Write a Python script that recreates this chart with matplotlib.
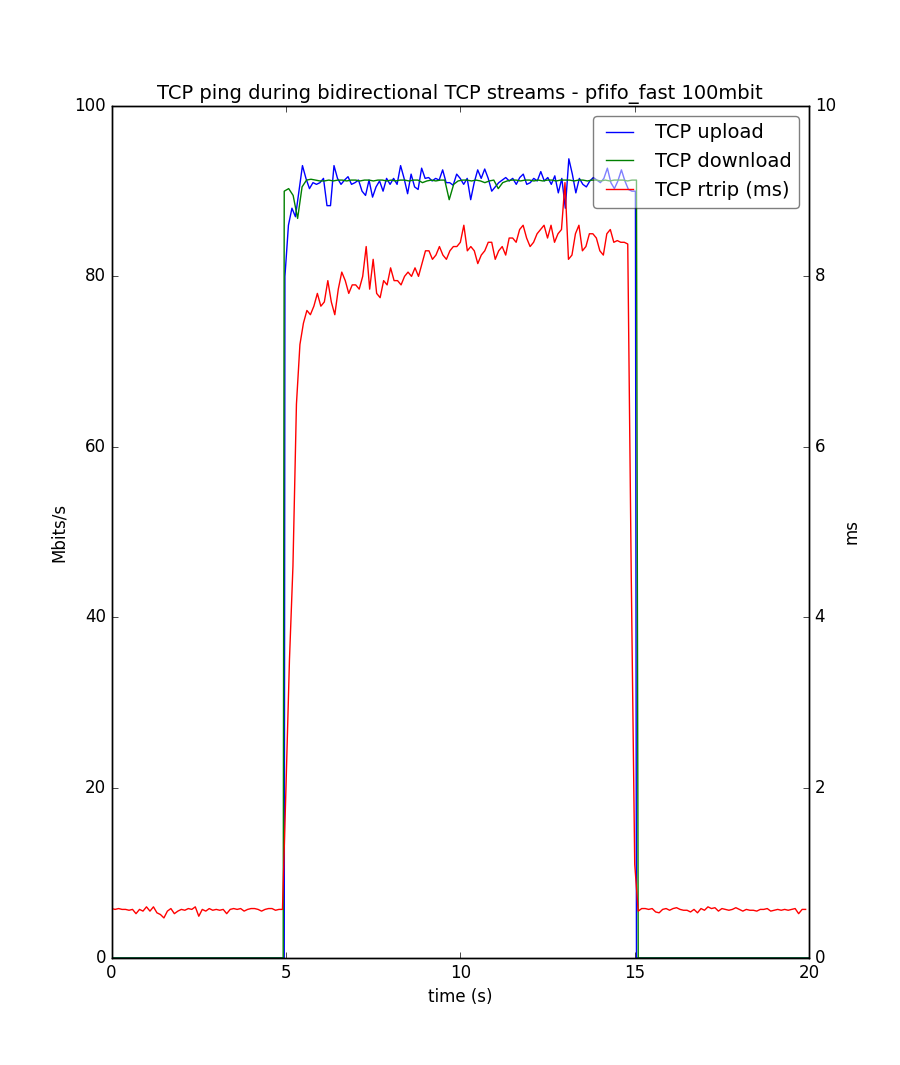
import numpy as np
import matplotlib
matplotlib.use("Agg")
import matplotlib.pyplot as plt

plt.style.use("classic")

# ── Data ──────────────────────────────────────────────────────────────────
# throughput (Mbit/s) during the stream window ~5.0 .. 15.0 s
upload_mid = [80, 86, 88, 87, 90, 93, 91.5, 90.3, 91, 90.8, 91, 91.5, 88.3, 88.3, 93, 91.5,
              90.8, 91.3, 91.7, 90.8, 91, 91.3, 90, 89.5, 91.3, 89.3, 90.5, 91.2, 90, 91.5,
              90.8, 91.5, 90.8, 93, 91.5, 89.7, 92, 90.5, 90.2, 92.7, 91.5, 91.6, 91.2, 91.5,
              91.3, 92.5, 91, 91, 90.7, 92, 91.5, 90.8, 91.5, 89, 91, 92.5, 91.5, 92.6, 91.5,
              90, 90.5, 91, 91.3, 91.6, 91.2, 91.5, 90.8, 91.6, 92, 90.8, 91, 91.5, 91.2, 92.3,
              91.2, 91.6, 90.8, 91.8, 89.8, 91.5, 88, 93.8, 92, 89.8, 91.5, 90.8, 90.5, 91.2,
              91.6, 91.3, 91, 91.5, 92.7, 91, 90.3, 91.2, 92.5, 91.2, 90.2, 90, 90]
download_mid = [90, 90.3, 89.5, 86.8, 90.5, 91.3, 91.4, 91.3, 91.2, 91.2, 91.3, 91.2, 91.3, 91.3,
                91.2, 91.3, 91.3, 91.2, 91.3, 91.3, 91.2, 91.3, 91.3, 91.2, 91.3, 91.2, 91.3,
                91.3, 91.2, 91.3, 91.3, 91.0, 91.2, 91.3, 91.2, 91.3, 91.3, 89.0, 90.8, 91.2,
                91.3, 91.3, 91.2, 91.3, 91.2, 91.0, 91.2, 91.3, 90.3, 91.0, 91.2, 91.3, 91.3,
                91.2, 91.3, 91.3, 91.2, 91.3, 91.2, 91.3, 91.3, 91.2, 91.3, 91.3, 91.3, 91.2,
                91.3, 91.3, 91.2, 91.3, 91.3, 91.2, 91.3, 91.2, 91.3, 91.3, 91.3, 91.2, 91.3,
                91.3]

# round trip (ms), 0.1 s samples from 0 to 19.9 s
rtrip = [0.58, 0.57, 0.58, 0.57, 0.57, 0.56, 0.57, 0.52, 0.57, 0.55, 0.60, 0.55, 0.60, 0.53,
         0.51, 0.47, 0.55, 0.58, 0.52, 0.55, 0.57, 0.56, 0.58, 0.57, 0.60, 0.49, 0.57, 0.55,
         0.58, 0.56, 0.57, 0.56, 0.57, 0.52, 0.57, 0.58, 0.57, 0.58, 0.55, 0.57, 0.58, 0.58,
         0.57, 0.55, 0.57, 0.58, 0.58, 0.56, 0.57,
         0.57, 2.0, 3.5, 4.6, 6.5, 7.2, 7.45, 7.6, 7.55, 7.65, 7.8, 7.65, 7.7, 7.95, 7.7, 7.55,
         7.85, 8.05, 7.95, 7.8, 7.9, 7.9, 7.85, 8.0, 8.35, 7.85, 8.2, 7.8, 7.75, 7.95, 7.9, 8.1,
         7.95, 7.95, 7.9, 8.0, 8.05, 8.0, 8.1, 8.0, 8.15, 8.3, 8.3, 8.2, 8.25, 8.35, 8.25, 8.2,
         8.3, 8.35, 8.35, 8.4, 8.6, 8.3, 8.35, 8.3, 8.15, 8.25, 8.3, 8.4, 8.4, 8.2, 8.3, 8.35,
         8.25, 8.45, 8.45, 8.4, 8.55, 8.6, 8.45, 8.35, 8.4, 8.5, 8.55, 8.6, 8.45, 8.6, 8.4, 8.5,
         8.55, 9.1, 8.2, 8.25, 8.5, 8.6, 8.3, 8.35, 8.5, 8.5, 8.45, 8.3, 8.25, 8.5, 8.55, 8.4,
         8.42, 8.4, 8.4, 8.38,
         4.5, 1.1, 0.55,
         0.58, 0.58, 0.57, 0.58, 0.54, 0.53, 0.57, 0.58, 0.56, 0.58, 0.59, 0.57, 0.56, 0.56,
         0.54, 0.57, 0.53, 0.58, 0.56, 0.60, 0.58, 0.59, 0.55, 0.58, 0.57, 0.56, 0.57, 0.59,
         0.57, 0.55, 0.57, 0.56, 0.56, 0.55, 0.57, 0.57, 0.58, 0.55, 0.56, 0.57, 0.56, 0.57,
         0.56, 0.57, 0.58, 0.52, 0.57, 0.57]

t_rtrip = np.arange(len(rtrip)) * 0.1
up_x = np.concatenate([[0, 4.95], np.linspace(4.97, 15.02, len(upload_mid)), [15.05, 20]])
up_y = np.concatenate([[0, 0], upload_mid, [0, 0]])
dn_x = np.concatenate([[0, 4.92], np.linspace(4.95, 15.05, len(download_mid)), [15.1, 20]])
dn_y = np.concatenate([[0, 0], download_mid, [0, 0]])

# ── Figure ────────────────────────────────────────────────────────────────
fig = plt.figure(figsize=(9, 10.65), dpi=100, facecolor="white")
ax = fig.add_axes([0.124, 0.1005, 0.775, 0.8])
l1, = ax.plot(up_x, up_y, color="b", lw=1, label="TCP upload")
l2, = ax.plot(dn_x, dn_y, color="g", lw=1, label="TCP download")
ax.set_xlim(0, 20)
ax.set_ylim(0, 100)
ax.set_xlabel("time (s)")
ax.set_ylabel("Mbits/s")
ax.set_title("TCP ping during bidirectional TCP streams - pfifo_fast 100mbit", fontsize=14)
ax.yaxis.set_ticks_position("left")

ax2 = ax.twinx()
l3, = ax2.plot(t_rtrip, rtrip, color="r", lw=1, label="TCP rtrip (ms)")
ax2.set_ylim(0, 10)
ax2.set_xlim(0, 20)
ax2.set_ylabel("ms")

ax2.legend([l1, l2, l3], [l.get_label() for l in (l1, l2, l3)],
           loc="upper right", fontsize=14, fancybox=True, framealpha=0.5)

fig.savefig("out.png", dpi=100, facecolor="white")
